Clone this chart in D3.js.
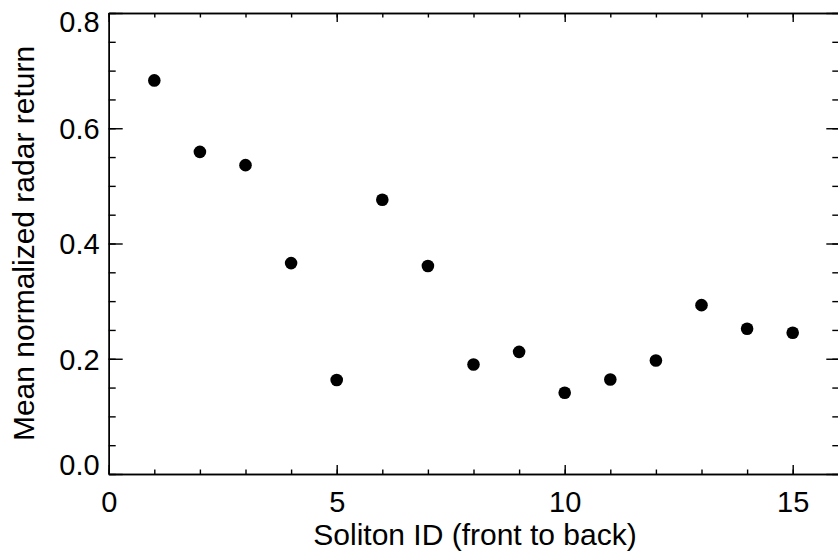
<!DOCTYPE html>
<html>
<head>
<meta charset="utf-8">
<script src="https://cdn.jsdelivr.net/npm/d3@7"></script>
<style>
  body { margin: 0; background: #fff; }
  text { font-family: "Liberation Sans", Arial, Helvetica, sans-serif; fill: #000; }
</style>
</head>
<body>
<script>
// soliton IDs and their mean normalized radar return
var solitonIds = [1, 2, 3, 4, 5, 6, 7, 8, 9, 10, 11, 12, 13, 14, 15]
var meanReturn = [0.683, 0.559, 0.536, 0.366, 0.163, 0.476, 0.361, 0.190, 0.212, 0.141, 0.164, 0.197, 0.293, 0.252, 0.245]

var xMajorTicks = [0, 5, 10, 15]
var xMinorTicks = d3.range(0, 17, 1)
var yMajorTicks = [0.0, 0.2, 0.4, 0.6, 0.8]
var yMinorTicks = d3.range(0, 0.801, 0.05)

var width = 838, height = 554
var margins = { left: 108.7, right: 838.3, top: 13, bottom: 474 }

var svg = d3.select("body").append("svg")
  .attr("width", width)
  .attr("height", height)

var x = d3.scaleLinear().domain([0, 16]).range([margins.left, margins.right])
var y = d3.scaleLinear().domain([0, 0.8]).range([margins.bottom, margins.top])

function styleAxis(g) {
  g.selectAll("path, line").attr("stroke", "#000").attr("stroke-width", 1.4)
  g.selectAll("text")
    .style("font-family", '"Liberation Sans", Arial, sans-serif')
    .style("font-size", "29px")
    .attr("fill", "#000")
}

// bottom
var gb = svg.append("g").attr("transform", "translate(0," + margins.bottom + ")")
gb.append("g").call(d3.axisBottom(x).tickValues(xMinorTicks).tickSizeInner(-4.5).tickSizeOuter(0).tickFormat(""))
gb.append("g").call(d3.axisBottom(x).tickValues(xMajorTicks).tickSizeInner(-9).tickSizeOuter(0).tickFormat(d3.format("d")))
styleAxis(gb)
gb.selectAll("text").attr("y", 38).attr("dy", null)

// top
var gt = svg.append("g").attr("transform", "translate(0," + margins.top + ")")
gt.append("g").call(d3.axisTop(x).tickValues(xMinorTicks).tickSizeInner(-4.5).tickSizeOuter(0).tickFormat(""))
gt.append("g").call(d3.axisTop(x).tickValues(xMajorTicks).tickSizeInner(-9).tickSizeOuter(0).tickFormat(""))
styleAxis(gt)

// left
var gl = svg.append("g").attr("transform", "translate(" + margins.left + ",0)")
gl.append("g").call(d3.axisLeft(y).tickValues(yMinorTicks).tickSizeInner(-7).tickSizeOuter(0).tickFormat(""))
gl.append("g").call(d3.axisLeft(y).tickValues(yMajorTicks).tickSizeInner(-14).tickSizeOuter(0).tickFormat(d3.format(".1f")))
styleAxis(gl)
// end labels are nudged inside the box, as in the original
gl.selectAll("text")
  .attr("x", -9)
  .attr("dy", "0.36em")
  .attr("y", function(d) { return d === 0 ? -9.5 : (d === 0.8 ? 8 : 0) })

// right
var gr = svg.append("g").attr("transform", "translate(" + margins.right + ",0)")
gr.append("g").call(d3.axisRight(y).tickValues(yMinorTicks).tickSizeInner(-6).tickSizeOuter(0).tickFormat(""))
gr.append("g").call(d3.axisRight(y).tickValues(yMajorTicks).tickSizeInner(-12).tickSizeOuter(0).tickFormat(""))
styleAxis(gr)

// points
svg.append("g").selectAll("circle")
  .data(solitonIds)
  .enter()
  .append("circle")
  .attr("cx", function(d) { return x(d) })
  .attr("cy", function(d, i) { return y(meanReturn[i]) })
  .attr("r", 6.3)
  .attr("fill", "#000")

// axis titles
svg.append("text")
  .attr("x", 475)
  .attr("y", 545)
  .attr("text-anchor", "middle")
  .style("font-size", "30px")
  .text("Soliton ID (front to back)")

svg.append("text")
  .attr("transform", "translate(33.5," + ((margins.top + margins.bottom) / 2) + ") rotate(-90)")
  .attr("text-anchor", "middle")
  .style("font-size", "30px")
  .text("Mean normalized radar return")
</script>
</body>
</html>
